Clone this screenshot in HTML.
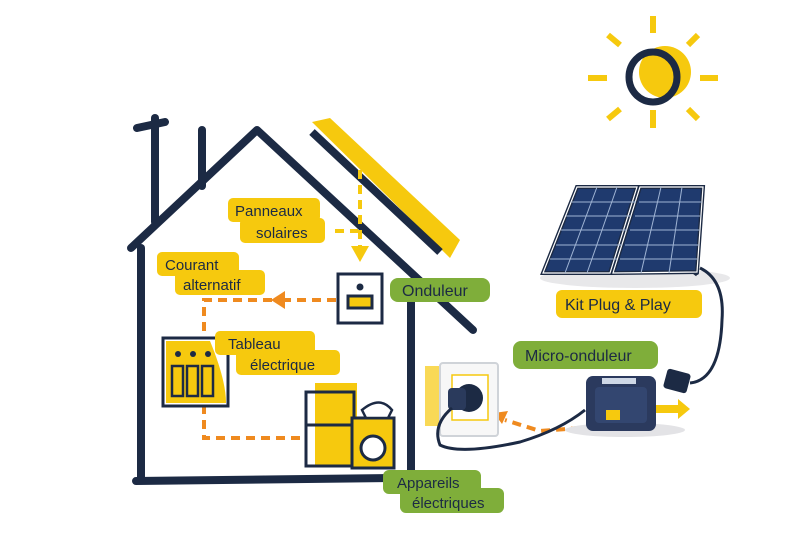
<!DOCTYPE html>
<html><head><meta charset="utf-8"><style>
html,body{margin:0;padding:0;background:#fff}
svg{display:block}
text{font-family:"Liberation Sans",sans-serif;font-size:15px;fill:#1c2a44}
</style></head><body>
<svg width="800" height="533" viewBox="0 0 800 533" xmlns="http://www.w3.org/2000/svg">
<rect width="800" height="533" fill="#fff"/>
<!-- sun -->
<g stroke="#f6c90e" stroke-width="6" stroke-linecap="butt">
<line x1="653" y1="16" x2="653" y2="33"/><line x1="653" y1="110" x2="653" y2="128"/>
<line x1="588" y1="78" x2="607" y2="78"/><line x1="700" y1="78" x2="718" y2="78"/>
<line x1="608" y1="35" x2="620" y2="45"/><line x1="698" y1="35" x2="688" y2="45"/>
<line x1="608" y1="119" x2="620" y2="109"/><line x1="698" y1="119" x2="688" y2="109"/>
</g>
<circle cx="665" cy="72" r="26" fill="#f6c90e"/>
<ellipse cx="653" cy="77" rx="24" ry="25" fill="none" stroke="#1c2a44" stroke-width="7"/>
<!-- house -->
<g stroke="#1c2a44" stroke-width="8" fill="none" stroke-linejoin="round" stroke-linecap="round">
<path d="M131 248 L257 130 L473 330"/>
<path d="M141 248 L141 480"/>
<path d="M136 481 L395 478"/>
<path d="M411 285 L411 470"/>
<path d="M155 118 L155 222"/><path d="M202 130 L202 186"/>
<path d="M137 128 L165 122"/>
</g>
<!-- roof panel -->
<polygon points="312,122 330,118 460,240 450,258" fill="#f6c90e"/>
<line x1="312" y1="132" x2="440" y2="252" stroke="#1c2a44" stroke-width="8"/>
<!-- dashed connectors -->
<g stroke="#ef8a1f" stroke-width="4" stroke-dasharray="9 6" fill="none">
<line x1="360" y1="170" x2="360" y2="248" stroke="#f6c90e"/>
<line x1="335" y1="231" x2="358" y2="231" stroke="#f6c90e"/>
<path d="M336 300 L285 300"/>
<path d="M272 300 L204 300 L204 337"/>
<path d="M204 405 L204 438 L305 438"/>
<path d="M580 428 L540 431 L505 420"/>
</g>
<polygon points="351,246 369,246 360,262" fill="#f6c90e"/>
<polygon points="271,300 285,291 285,309" fill="#ef8a1f"/>
<polygon points="494,413 508,411 502,424" fill="#ef8a1f"/>
<!-- onduleur box -->
<rect x="338" y="274" width="44" height="49" fill="#fff" stroke="#1c2a44" stroke-width="3"/>
<circle cx="360" cy="287" r="3.5" fill="#1c2a44"/>
<rect x="348" y="296" width="24" height="12" fill="#f6c90e" stroke="#1c2a44" stroke-width="3"/>
<!-- breaker box -->
<rect x="163" y="338" width="65" height="68" fill="#fff" stroke="#1c2a44" stroke-width="3"/>
<path d="M166 341 L210 341 Q226 380 226 403 L166 403Z" fill="#f6c90e"/>
<g fill="#1c2a44"><circle cx="178" cy="354" r="3"/><circle cx="193" cy="354" r="3"/><circle cx="208" cy="354" r="3"/></g>
<g fill="#f6c90e" stroke="#1c2a44" stroke-width="2.5">
<rect x="172" y="366" width="11" height="30"/><rect x="187" y="366" width="11" height="30"/><rect x="202" y="366" width="11" height="30"/>
</g>
<!-- appliances -->
<rect x="315" y="383" width="42" height="82" fill="#f6c90e"/>
<rect x="306" y="392" width="48" height="74" fill="none" stroke="#1c2a44" stroke-width="3"/>
<line x1="306" y1="425" x2="354" y2="425" stroke="#1c2a44" stroke-width="3"/>
<rect x="352" y="418" width="42" height="50" fill="#f6c90e" stroke="#1c2a44" stroke-width="3"/>
<circle cx="373" cy="448" r="12" fill="#fff" stroke="#1c2a44" stroke-width="3"/>
<path d="M362 410 Q380 395 392 410 L388 418 L366 418Z" fill="#fff" stroke="#1c2a44" stroke-width="2.5"/>
<!-- outlet -->
<rect x="425" y="366" width="20" height="60" fill="#f6c90e" opacity="0.7"/>
<rect x="440" y="363" width="58" height="73" rx="3" fill="#f7f7f7" stroke="#cfd3d8" stroke-width="2"/>
<rect x="452" y="375" width="36" height="45" fill="#fff" stroke="#f6c90e" stroke-width="1.5"/>
<circle cx="469" cy="398" r="14" fill="#1c2a44"/>
<rect x="448" y="388" width="18" height="22" rx="4" fill="#2a3a5c"/>
<path d="M452 408 Q432 425 440 445 Q460 455 520 442 Q560 430 585 410" fill="none" stroke="#1c2a44" stroke-width="3"/>
<!-- solar kit -->
<ellipse cx="635" cy="278" rx="95" ry="10" fill="#e8e8ea"/>
<path d="M690 243 L697 275 M680 262 L697 275" stroke="#1c2a44" stroke-width="3"/>
<polygon points="577,187 637,187 610,273 543,273" fill="#1f3a6e" stroke="#1c2a44" stroke-width="4"/>
<polygon points="577,187 637,187 610,273 543,273" fill="none" stroke="#fff" stroke-width="1.2"/>
<polygon points="640,187 703,187 697,272 613,273" fill="#1f3a6e" stroke="#1c2a44" stroke-width="4"/>
<polygon points="640,187 703,187 697,272 613,273" fill="none" stroke="#fff" stroke-width="1.2"/>
<g stroke="#9fb4d4" stroke-width="1">
<line x1="597" y1="187" x2="565" y2="273"/><line x1="617" y1="187" x2="587" y2="273"/>
<line x1="661" y1="187" x2="641" y2="273"/><line x1="682" y1="187" x2="669" y2="273"/>
<line x1="571" y1="202" x2="636" y2="202"/><line x1="639" y1="202" x2="702" y2="202"/>
<line x1="566" y1="216" x2="631" y2="216"/><line x1="635" y1="216" x2="701" y2="216"/>
<line x1="561" y1="230" x2="627" y2="230"/><line x1="630" y1="230" x2="700" y2="230"/>
<line x1="556" y1="245" x2="622" y2="245"/><line x1="625" y1="245" x2="699" y2="245"/>
<line x1="550" y1="259" x2="617" y2="259"/><line x1="620" y1="259" x2="698" y2="259"/>
</g>
<path d="M700 268 Q725 280 722 320 Q720 380 690 383" fill="none" stroke="#1c2a44" stroke-width="3"/>
<!-- micro inverter -->
<ellipse cx="625" cy="430" rx="60" ry="7" fill="#e3e3e6"/>
<rect x="586" y="376" width="70" height="55" rx="7" fill="#2b3a5e"/>
<rect x="595" y="387" width="52" height="36" rx="4" fill="#334670"/>
<rect x="602" y="378" width="34" height="6" fill="#cfd8e6"/>
<rect x="606" y="410" width="14" height="10" fill="#f6c90e"/>
<rect x="665" y="371" width="24" height="20" rx="3" fill="#1c2a44" transform="rotate(15 677 381)"/>
<polygon points="656,405 678,405 678,399 690,409 678,419 678,413 656,413" fill="#f6c90e"/>
<!-- labels -->
<g fill="#f6c90e">
<rect x="228" y="198" width="92" height="24" rx="5"/><rect x="240" y="218" width="85" height="25" rx="5"/>
<rect x="157" y="252" width="82" height="24" rx="5"/><rect x="175" y="270" width="90" height="25" rx="5"/>
<rect x="215" y="331" width="100" height="24" rx="5"/><rect x="236" y="350" width="104" height="25" rx="5"/>
<rect x="556" y="290" width="146" height="28" rx="6"/>
</g>
<g fill="#7fae3a">
<rect x="390" y="278" width="100" height="24" rx="8"/>
<rect x="513" y="341" width="145" height="28" rx="8"/>
<rect x="383" y="470" width="98" height="24" rx="6"/><rect x="400" y="488" width="104" height="25" rx="6"/>
</g>
<text x="235" y="216">Panneaux</text><text x="256" y="238">solaires</text>
<text x="165" y="270">Courant</text><text x="183" y="290">alternatif</text>
<text x="228" y="349" fill="#fff">Tableau</text><text x="250" y="370" fill="#fff">électrique</text>
<text x="402" y="296" fill="#fff" style="font-size:16px">Onduleur</text>
<text x="565" y="310" fill="#fff" style="font-size:16px">Kit Plug &amp; Play</text>
<text x="525" y="361" fill="#fff" style="font-size:16px">Micro-onduleur</text>
<text x="397" y="488" fill="#fff">Appareils</text><text x="412" y="508" fill="#fff">électriques</text>
</svg>
</body></html>
